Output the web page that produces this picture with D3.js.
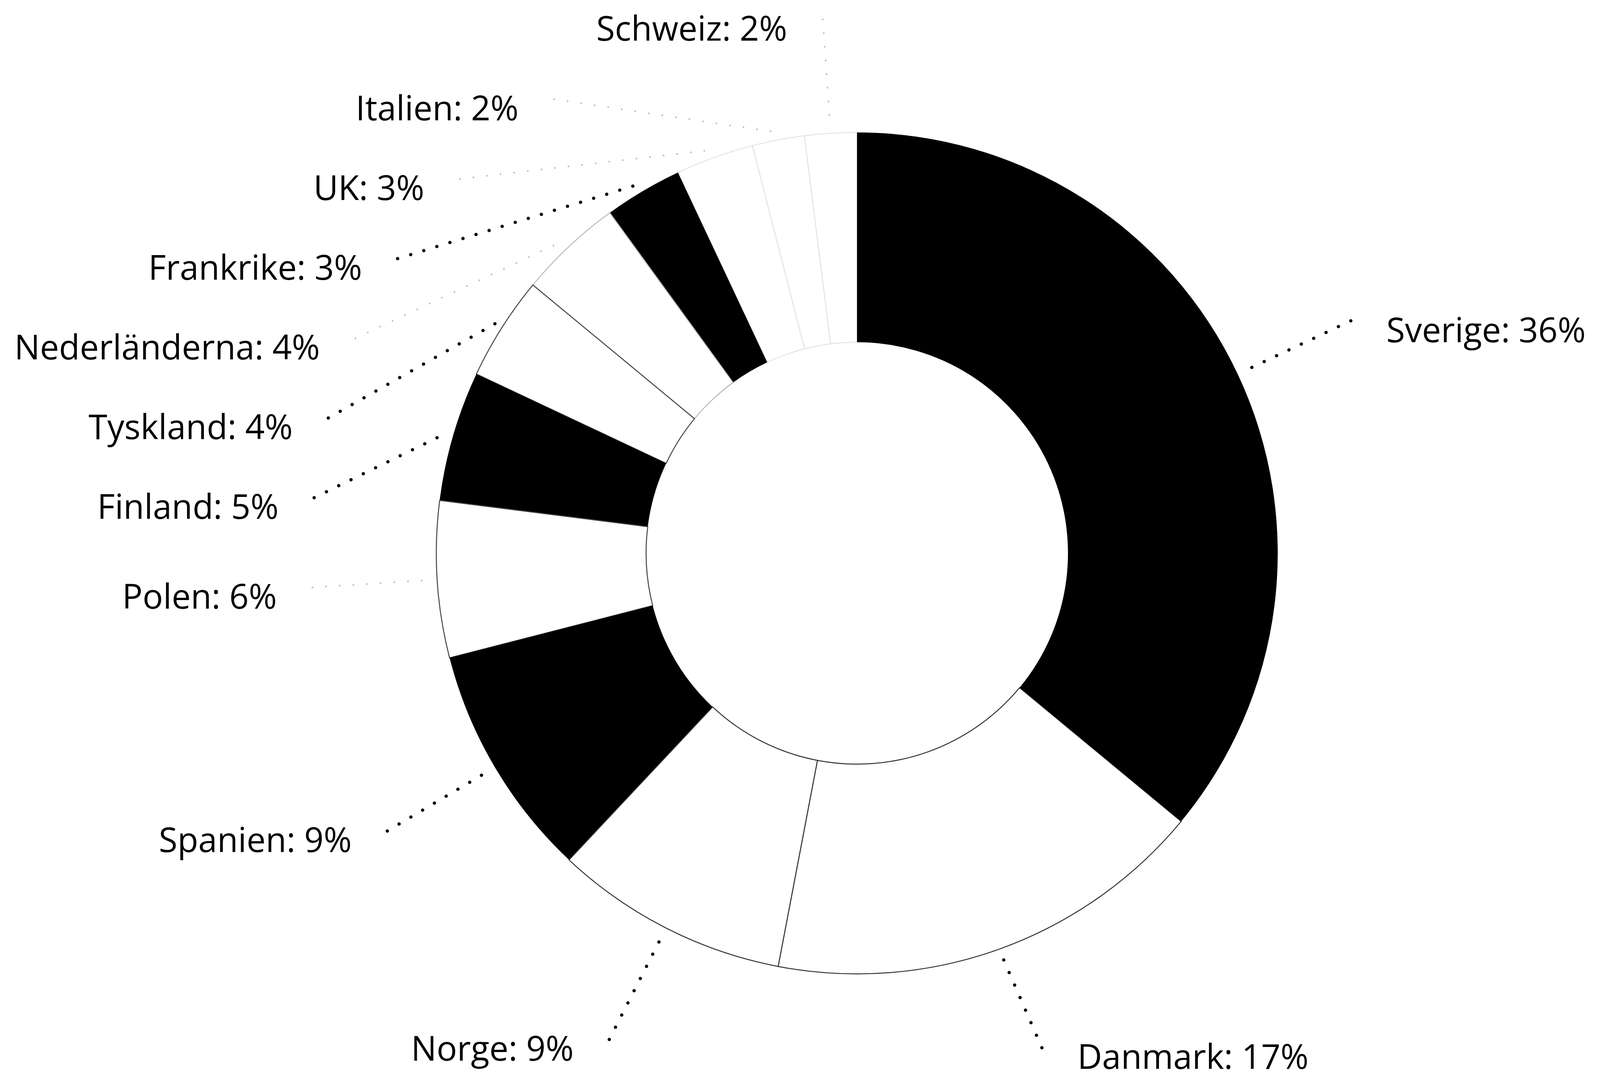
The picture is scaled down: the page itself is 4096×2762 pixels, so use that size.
<!DOCTYPE html>
<html>
<head>
<meta charset="utf-8">
<script src="https://cdn.jsdelivr.net/npm/d3@7"></script>
<style>
  html, body { margin: 0; padding: 0; background: #fff; }
  svg { display: block; }
</style>
</head>
<body>
<svg id="chart" width="4096" height="2762"></svg>
<script>
// ---- data ----
const categories = ["Sverige", "Danmark", "Norge", "Spanien", "Polen", "Finland",
                    "Tyskland", "Nederländerna", "Frankrike", "UK", "Italien", "Schweiz"];
const values = [36, 17, 9, 9, 6, 5, 4, 4, 3, 3, 2, 2];

// ---- style (per slice) ----
const sliceFill   = ["#000", "#fff", "#fff", "#000", "#fff", "#000", "#fff", "#fff", "#000", "#fff", "#fff", "#fff"];
const sliceStroke = ["#000", "#333", "#333", "#000", "#444", "#000", "#444", "#bbb", "#000", "#e4e4e4", "#e4e4e4", "#e4e4e4"];
const leaderDark  = [true, true, true, true, false, true, true, false, true, false, false, false];

// ---- layout ----
const W = 4096, H = 2762;
const cx = 2194, cy = 1416;
const R = 1077, r = 540;
const RL = 1397;          // label circle
const spacing = 204;      // min vertical distance between labels on a side
const topLimit = 50, bottomLimit = 2682;
const textGap = 91, textCenterDy = 23;
const fontSize = 87;

const svg = d3.select("#chart");
const g = svg.append("g");

const pie = d3.pie().sort(null).value(d => d.value).startAngle(0).endAngle(2 * Math.PI);
const data = categories.map((c, i) => ({ name: c, value: values[i], i }));
const arcs = pie(data);

const arc = d3.arc().innerRadius(r).outerRadius(R);

// draw slices (reverse so earlier slices' outlines sit on top)
g.selectAll("path.slice")
  .data(arcs.slice().reverse())
  .join("path")
  .attr("class", "slice")
  .attr("transform", `translate(${cx},${cy})`)
  .attr("d", arc)
  .attr("fill", d => sliceFill[d.data.i])
  .attr("stroke", d => sliceStroke[d.data.i])
  .attr("stroke-width", d => sliceFill[d.data.i] === "#000" ? 0 : 2.5);

// ---- label placement ----
const labels = arcs.map(a => {
  const mid = (a.startAngle + a.endAngle) / 2;
  const sx = cx + Math.sin(mid) * (R + 20), sy = cy - Math.cos(mid) * (R + 20);
  const nx = cx + Math.sin(mid) * RL, ny = cy - Math.cos(mid) * RL;
  return { a, mid, sx, sy, nx, ny, left: mid > Math.PI, y: ny, x: nx, pushed: false };
});

function distribute(side) {
  side.sort((p, q) => p.ny - q.ny);
  let prev = -Infinity;
  side.forEach(l => {
    let y = l.ny;
    if (y < topLimit) y = topLimit;
    if (y < prev + spacing) { y = prev + spacing; l.pushed = true; }
    if (y > bottomLimit) y = bottomLimit;
    l.y = y;
    prev = y;
  });
  side.forEach(l => {
    if (l.pushed) {
      const dy = Math.max(-RL, Math.min(RL, l.y - cy));
      l.x = cx + (l.left ? -1 : 1) * Math.sqrt(RL * RL - dy * dy);
    } else {
      l.x = l.nx;
    }
  });
}
distribute(labels.filter(l => l.left));
distribute(labels.filter(l => !l.left));

// leaders
g.selectAll("line.leader")
  .data(labels)
  .join("line")
  .attr("class", "leader")
  .attr("x1", d => d.x).attr("y1", d => d.y)
  .attr("x2", d => d.sx).attr("y2", d => d.sy)
  .attr("stroke", d => leaderDark[d.a.data.i] ? "#000" : "#bdbdbd")
  .attr("stroke-width", d => leaderDark[d.a.data.i] ? 8.5 : 4.5)
  .attr("stroke-linecap", "round")
  .attr("stroke-dasharray", "0 35");

// texts
g.selectAll("text.label")
  .data(labels)
  .join("text")
  .attr("class", "label")
  .attr("x", d => d.left ? d.x - textGap : d.x + textGap)
  .attr("y", d => d.y + textCenterDy)
  .attr("dy", "0.36em")
  .attr("text-anchor", d => d.left ? "end" : "start")
  .attr("font-family", "'Open Sans', 'Noto Sans', sans-serif")
  .attr("font-size", fontSize)
  .attr("font-weight", 500)
  .attr("fill", "#000")
  .text(d => `${d.a.data.name}: ${d.a.data.value}%`);
</script>
</body>
</html>
